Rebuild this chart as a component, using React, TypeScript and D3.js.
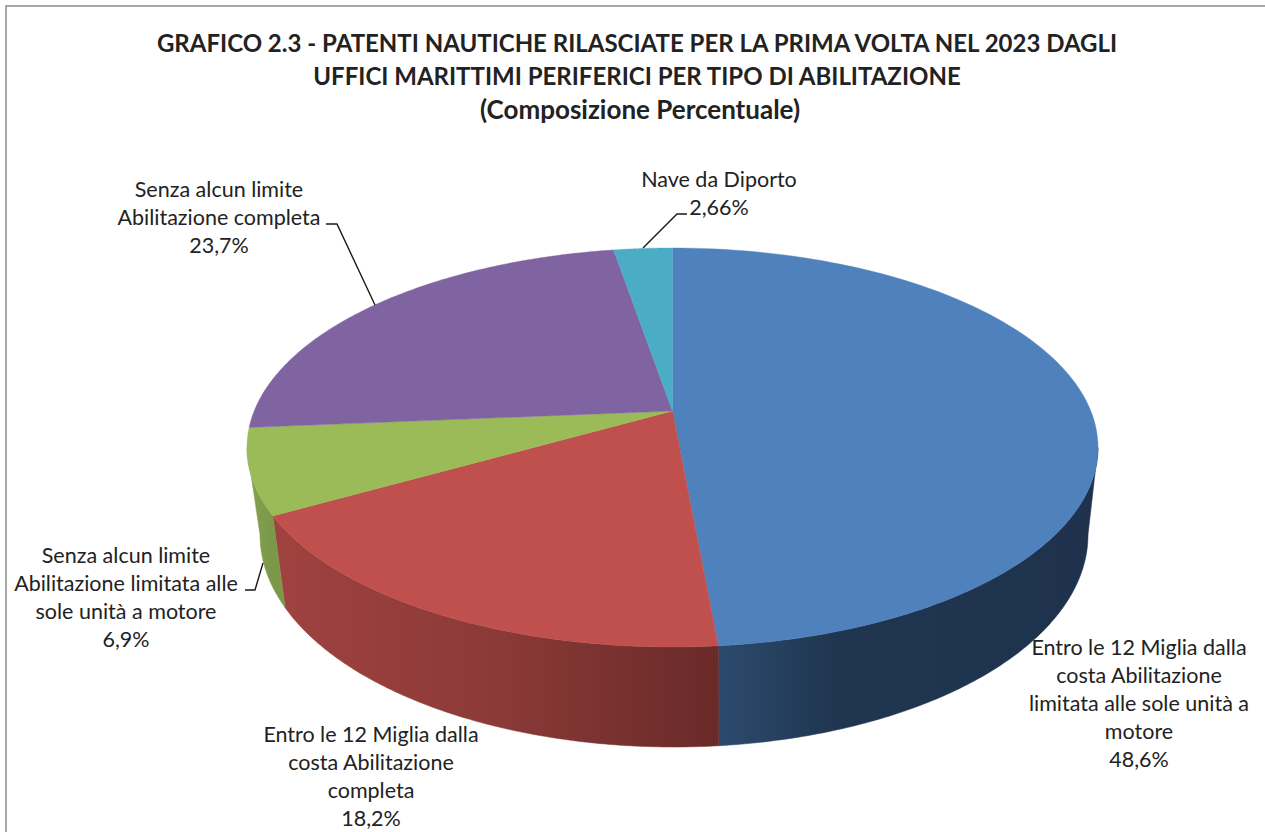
import React from "react";
import * as d3 from "d3";

// ---- data ----
const titleLines = [
  "GRAFICO 2.3 - PATENTI NAUTICHE RILASCIATE PER LA PRIMA VOLTA NEL 2023 DAGLI",
  "UFFICI MARITTIMI PERIFERICI PER TIPO DI ABILITAZIONE",
  "(Composizione Percentuale)",
];
const categories = [
  ["Entro le 12 Miglia dalla", "costa Abilitazione", "limitata alle sole unità a", "motore"],
  ["Entro le 12 Miglia dalla", "costa Abilitazione", "completa"],
  ["Senza alcun limite", "Abilitazione limitata alle", "sole unità a motore"],
  ["Senza alcun limite", "Abilitazione completa"],
  ["Nave da Diporto"],
];
const values = [48.6, 18.2, 6.9, 23.7, 2.66];
const valueLabels = ["48,6%", "18,2%", "6,9%", "23,7%", "2,66%"];

// ---- styles and layout ----
const topColors = ["#4f81bd", "#c0504d", "#9bbb59", "#8064a2", "#4bacc6"];
const sideStops: [number, string][][] = [
  [[0, "#2c4a6e"], [0.3, "#203650"], [1, "#1e324e"]],
  [[0, "#a04240"], [0.5, "#8b3a38"], [1, "#692a28"]],
  [[0, "#85a44e"], [1, "#7a9848"]],
  [[0, "#604b7a"], [1, "#604b7a"]],
  [[0, "#388196"], [1, "#388196"]],
];
const labelCx = [1139, 371, 126, 219, 719];
const labelTop = [655, 741.5, 563, 197, 187];
const LABEL_SIZE = 21.5;
const LINE_H = 28;
const TITLE_SIZES = [24, 24, 26];
const TITLE_Y = [52, 85, 119];
const FONT = "Lato, sans-serif";
const TEXT = "#222222";
const leaders: [number, number][][] = [
  [],
  [],
  [[245, 590], [255, 590], [263, 563]],
  [[326, 224], [337, 224], [375, 305]],
  [[687, 214], [677, 214], [643, 248]],
];

const topE = { cx: 672.5, cy: 447.5, rx: 425.5, ry: 199.5 };
const botE = { cx: 674, cy: 535, rx: 414, ry: 212 };
const apexV = (411 - topE.cy) / topE.ry;

// The tilted disc: true pie angle -> point on a perspective ellipse
function project(angle: number, e: typeof topE, r = 1): [number, number] {
  const X = r * Math.sin(angle);
  const Y = -r * Math.cos(angle);
  const d = 1 + apexV * Y;
  const u = (X * Math.sqrt(1 - apexV * apexV)) / d;
  const v = (Y + apexV) / d;
  return [e.cx + u * e.rx, e.cy + v * e.ry];
}

const line = d3.line();
const arcPts = (a0: number, a1: number, e: typeof topE) =>
  d3.range(0, 121).map((i) => project(a0 + ((a1 - a0) * i) / 120, e));

const pie = d3
  .pie<number>()
  .sort(null)
  .startAngle(0)
  .endAngle(2 * Math.PI)(values);

// visible front of the wall: where the ellipse lies below its widest row
const frontStart = Math.acos(apexV);
const frontEnd = 2 * Math.PI - frontStart;

export default function App() {
  const apex = project(0, topE, 0);
  return (
    <svg
      width={1265}
      height={832}
      style={{ position: "absolute", left: 0, top: 0, background: "#fff" }}
      fontFamily={FONT}
    >
      <defs>
        {sideStops.map((s, i) => {
          const a0 = Math.max(pie[i].startAngle, frontStart);
          const a1 = Math.min(pie[i].endAngle, frontEnd);
          const xs = a1 > a0 ? [project(a0, topE)[0], project(a1, topE)[0]] : [0, 1];
          return (
            <linearGradient
              key={i}
              id={`side${i}`}
              gradientUnits="userSpaceOnUse"
              x1={Math.min(...xs)}
              x2={Math.max(...xs)}
              y1={0}
              y2={0}
            >
              {s.map(([o, c], j) => (
                <stop key={j} offset={o} stopColor={c} />
              ))}
            </linearGradient>
          );
        })}
      </defs>

      <path d="M6 832V6H1265" fill="none" stroke="#a6a6a6" strokeWidth={2} />

      {titleLines.map((t, i) => (
        <text
          key={i}
          x={i === 2 ? 640 : 637}
          y={TITLE_Y[i]}
          textAnchor="middle"
          fontSize={TITLE_SIZES[i]}
          fontWeight={700}
          fill={TEXT}
        >
          {t}
        </text>
      ))}

      {/* wall */}
      {pie.map((p, i) => {
        const a0 = Math.max(p.startAngle, frontStart);
        const a1 = Math.min(p.endAngle, frontEnd);
        if (a1 <= a0) return null;
        const pts = [...arcPts(a0, a1, topE), ...arcPts(a0, a1, botE).reverse()];
        return (
          <path
            key={i}
            d={line(pts as [number, number][]) + "Z"}
            fill={`url(#side${i})`}
            stroke={`url(#side${i})`}
            strokeWidth={0.5}
          />
        );
      })}

      {/* top face */}
      {pie.map((p, i) => (
        <path
          key={i}
          d={line([apex, ...arcPts(p.startAngle, p.endAngle, topE)] as [number, number][]) + "Z"}
          fill={topColors[i]}
          stroke={topColors[i]}
          strokeWidth={0.4}
        />
      ))}

      {leaders.map((l, i) =>
        l.length ? (
          <path key={i} d={line(l) as string} fill="none" stroke="#1a1a1a" strokeWidth={1.4} />
        ) : null
      )}

      {categories.map((lines, i) => (
        <text key={i} textAnchor="middle" fontSize={LABEL_SIZE} fill={TEXT}>
          {[...lines, valueLabels[i]].map((t, j) => (
            <tspan key={j} x={labelCx[i]} y={labelTop[i] + j * LINE_H}>
              {t}
            </tspan>
          ))}
        </text>
      ))}
    </svg>
  );
}
